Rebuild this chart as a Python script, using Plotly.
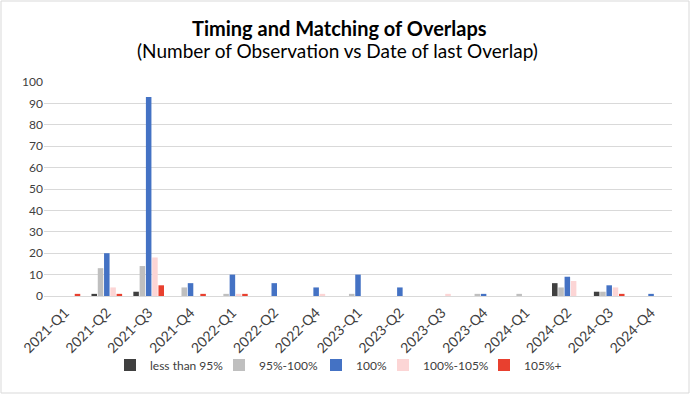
import plotly.graph_objects as go

categories = ["2021-Q1", "2021-Q2", "2021-Q3", "2021-Q4", "2022-Q1", "2022-Q2", "2022-Q4",
              "2023-Q1", "2023-Q2", "2023-Q3", "2023-Q4", "2024-Q1", "2024-Q2", "2024-Q3", "2024-Q4"]
less_than_95 = [0, 1, 2, 0, 0, 0, 0, 0, 0, 0, 0, 0, 6, 2, 0]
p95_100 = [0, 13, 14, 4, 1, 0, 0, 1, 0, 0, 1, 1, 4, 2, 0]
p100 = [0, 20, 93, 6, 10, 6, 4, 10, 4, 0, 1, 0, 9, 5, 1]
p100_105 = [0, 4, 18, 0, 1, 0, 1, 0, 0, 1, 0, 0, 7, 4, 0]
p105_plus = [1, 1, 5, 1, 1, 0, 0, 0, 0, 0, 0, 0, 0, 1, 0]

series = [
    ("less than 95%", less_than_95, "#404040"),
    ("95%-100%", p95_100, "#BFBFBF"),
    ("100%", p100, "#4472C4"),
    ("100%-105%", p100_105, "#FCD5D5"),
    ("105%+", p105_plus, "#E8402F"),
]

W, H = 690, 394
ml, mr, mt, mb = 44, 18, 82, 98
pw, ph = W - ml - mr, H - mt - mb

# pixel x where each legend entry's text starts
legend_text_px = [150, 259, 356, 423, 524]

fig = go.Figure()
legend_layouts = {}
for i, (name, vals, col) in enumerate(series):
    lname = "legend" if i == 0 else f"legend{i + 1}"
    fig.add_trace(go.Bar(x=categories, y=vals, name=name, marker_color=col,
                         marker_line_width=0, legend=lname))
    legend_layouts[lname] = dict(
        orientation="h", x=(legend_text_px[i] - 40 - ml) / pw, xanchor="left",
        y=(296 - 365) / ph, yanchor="middle",
        font=dict(size=12, color="#404040"), itemwidth=30,
        bgcolor="rgba(0,0,0,0)", borderwidth=0)

fig.update_layout(
    width=W, height=H,
    margin=dict(l=ml, r=mr, t=mt, b=mb, autoexpand=False),
    paper_bgcolor="white", plot_bgcolor="white",
    font=dict(family="Lato, Noto Sans, sans-serif", color="#404040", size=12),
    barmode="group", bargap=0.25, bargroupgap=0.12,
    showlegend=True,
    xaxis=dict(tickangle=-45, showgrid=False, showline=True, linecolor="#D9D9D9",
               tickfont=dict(size=14, color="#404040"), ticks="", automargin=False,
               ticklabelstandoff=2),
    yaxis=dict(range=[0, 100], dtick=10, showgrid=True, gridcolor="#D9D9D9",
               zeroline=False, tickfont=dict(size=12, color="#404040"), ticks="",
               automargin=False),
    annotations=[
        dict(text="<b>Timing and Matching of Overlaps</b>", xref="paper", yref="paper",
             x=(W / 2 - 6 - ml) / pw, y=(H - 28 - mb) / ph, showarrow=False,
             font=dict(size=20, color="#000000"), xanchor="center", yanchor="middle"),
        dict(text="(Number of Observation vs Date of last Overlap)", xref="paper", yref="paper",
             x=(W / 2 - 8 - ml) / pw, y=(H - 50 - mb) / ph, showarrow=False,
             font=dict(size=19, color="#000000"), xanchor="center", yanchor="middle"),
    ],
    shapes=[dict(type="rect", xref="paper", yref="paper",
                 x0=(1 - ml) / pw, x1=(W - 1 - ml) / pw,
                 y0=(1 - mb) / ph, y1=(H - 1 - mb) / ph,
                 line=dict(color="#D9D9D9", width=1))],
    **legend_layouts,
)

fig.write_html("out.html", config={"displayModeBar": False},
               post_script="document.body.style.margin='0';")
